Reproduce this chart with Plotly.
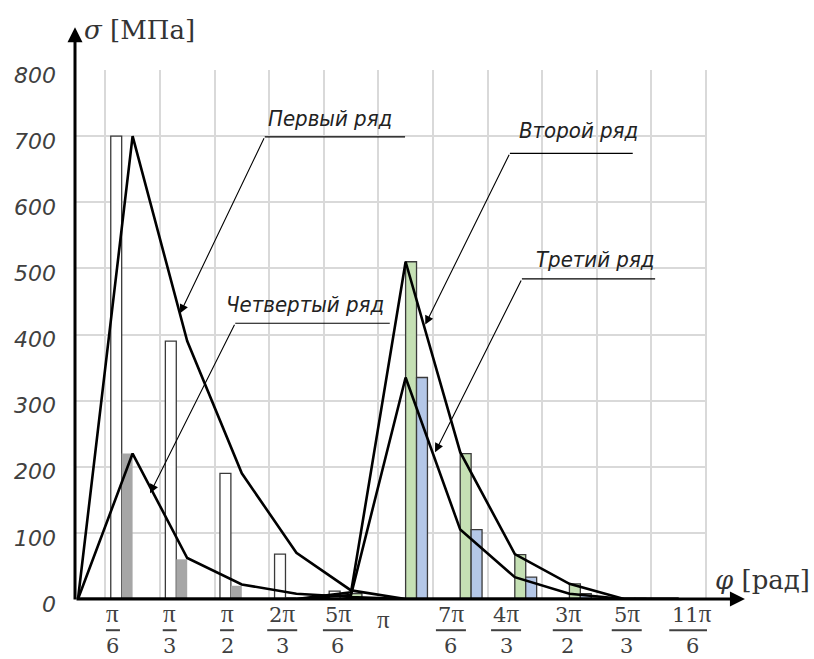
import plotly.graph_objects as go

# Angular positions (category index 0..11 = 0 .. 11π/6)
angle_idx = list(range(12))
tick_num = ["0", "π", "π", "π", "2π", "5π", "π", "7π", "4π", "3π", "5π", "11π"]
tick_den = ["", "6", "3", "2", "3", "6", "", "6", "3", "2", "3", "6"]
# horizontal placement of each angle label, in category units
tick_pos = [-0.15, 0.64, 1.68, 2.73, 3.74, 4.76, 5.59, 6.83, 7.84, 8.97, 10.05, 11.25]

# Stress values, MPa
row1_bars = [None, 700, 390, 190, 68, 12, None, None, None, None, None, None]
row4_bars = [None, 220, 60, 20, 2, 1, None, None, None, None, None, None]
row2_bars = [None, None, None, None, None, 8, 510, 220, 67, 23, 1, None]
row3_bars = [None, None, None, None, None, 2, 335, 105, 33, 8, 1, None]

row1_line = [0, 700, 390, 190, 70, 13, 0, 0, 0, 0, 0, 0]
row4_line = [0, 220, 62, 22, 8, 3, 0, 0, 0, 0, 0, 0]
row2_line = [0, 0, 0, 0, 0, 10, 510, 222, 68, 23, 0, 0]
row3_line = [0, 0, 0, 0, 0, 6, 335, 105, 33, 8, 0, 0]

OUTLINE = "#3a3a3a"
fig = go.Figure()

fig.add_bar(x=angle_idx, y=row1_bars, marker=dict(color="white", line=dict(color=OUTLINE, width=1.3)), name="Первый ряд")
fig.add_bar(x=angle_idx, y=row4_bars, marker=dict(color="#a6a6a6", line=dict(width=0)), name="Четвертый ряд")
fig.add_bar(x=angle_idx, y=row2_bars, marker=dict(color="#c5e0b4", line=dict(color=OUTLINE, width=1.3)), name="Второй ряд")
fig.add_bar(x=angle_idx, y=row3_bars, marker=dict(color="#b4c7e7", line=dict(color=OUTLINE, width=1.3)), name="Третий ряд")

for ys in (row1_line, row4_line, row2_line, row3_line):
    fig.add_scatter(x=angle_idx, y=ys, mode="lines", line=dict(color="black", width=2.6), hoverinfo="skip")

CALLOUT_FONT = dict(family="DejaVu Sans Condensed, DejaVu Sans, sans-serif", size=22, color="#222222", style="italic")

# Callouts: label text, label centre, shelf start/end, arrow tip
callouts = [
    ("Первый ряд", (4.62, 727), (3.42, 5.99, 699), (1.87, 432)),
    ("Четвертый ряд", (4.16, 445), (2.88, 5.71, 417), (1.32, 160)),
    ("Второй ряд", (9.16, 708), (7.91, 10.16, 674), (6.36, 415)),
    ("Третий ряд", (9.47, 513), (8.13, 10.57, 484), (6.54, 222)),
]
for text, (tx, ty), (sx0, sx1, sy), (ax_, ay_) in callouts:
    fig.add_annotation(x=tx, y=ty, text=text, showarrow=False, font=CALLOUT_FONT, xref="x", yref="y")
    fig.add_shape(type="line", x0=sx0, x1=sx1, y0=sy, y1=sy, xref="x", yref="y", line=dict(color="black", width=1.2))
    fig.add_annotation(x=ax_, y=ay_, ax=sx0, ay=sy, axref="x", ayref="y", xref="x", yref="y", text="",
                       showarrow=True, arrowhead=2, arrowsize=1.6, arrowwidth=1.1, arrowcolor="black")

# Axis arrows
fig.add_annotation(x=1.06, y=0, ax=0, ay=0, xref="x domain", yref="y domain", axref="x domain", ayref="y domain",
                   text="", showarrow=True, arrowhead=2, arrowsize=1.0, arrowwidth=3, arrowcolor="black")
fig.add_annotation(x=0, y=1.081, ax=0, ay=-0.004, xref="x domain", yref="y domain", axref="x domain", ayref="y domain",
                   text="", showarrow=True, arrowhead=2, arrowsize=1.0, arrowwidth=3, arrowcolor="black")

# Axis titles
TITLE_FONT = dict(family="DejaVu Serif, Liberation Serif, serif", size=26, color="#333333")
fig.add_annotation(x=0.011, y=1.076, xref="x domain", yref="y domain", xanchor="left", yanchor="middle",
                   text="<i>σ</i> [МПа]", showarrow=False, font=TITLE_FONT)
fig.add_annotation(x=1.01, y=0.036, xref="x domain", yref="y domain", xanchor="left", yanchor="middle",
                   text="<i>φ</i> [рад]", showarrow=False, font=TITLE_FONT)

# Angle labels as stacked fractions
FRAC_FONT = dict(family="DejaVu Serif, Liberation Serif, serif", size=21, color="#404040")
PI_HTML = '<span style="font-family:Liberation Serif;font-size:25px">π</span>'


def angle_label(x, y, text, font):
    fig.add_annotation(x=x, y=y, xref="x", yref="paper", xanchor="center", yanchor="middle",
                       text=text.replace("π", PI_HTML), showarrow=False, font=font)


for num, den, px in zip(tick_num, tick_den, tick_pos):
    if num == "0":
        angle_label(px, -0.025, "0", dict(family="DejaVu Sans", size=22, color="#404040", style="italic"))
        continue
    if not den:
        angle_label(px, -0.038, num, FRAC_FONT)
        continue
    angle_label(px, -0.027, num, FRAC_FONT)
    angle_label(px, -0.088, den, FRAC_FONT)
    half = (7 + 8 * (len(num) - 1)) / 54.6
    fig.add_shape(type="line", x0=px - half, x1=px + half, y0=-0.059, y1=-0.059, xref="x", yref="paper",
                  line=dict(color="#404040", width=2))

fig.update_layout(
    width=814, height=659,
    margin=dict(l=75, r=107, t=70, b=60, autoexpand=False),
    paper_bgcolor="white", plot_bgcolor="white",
    barmode="group", bargap=0.2, bargroupgap=0,
    showlegend=False,
)
fig.update_xaxes(range=[-0.055, 11.52], tick0=0.5, dtick=1, showticklabels=False, ticks="",
                 showgrid=True, gridcolor="#d9d9d9", gridwidth=1.5, zeroline=False, showline=False)
fig.update_yaxes(range=[0, 800], dtick=100, showgrid=True, gridcolor="#d9d9d9", gridwidth=1.5,
                 zeroline=False, showline=False, ticks="", ticklabelstandoff=18, ticklabelshift=5,
                 tickfont=dict(family="DejaVu Sans", size=22, color="#404040", style="italic"))

fig.write_html("out.html")
